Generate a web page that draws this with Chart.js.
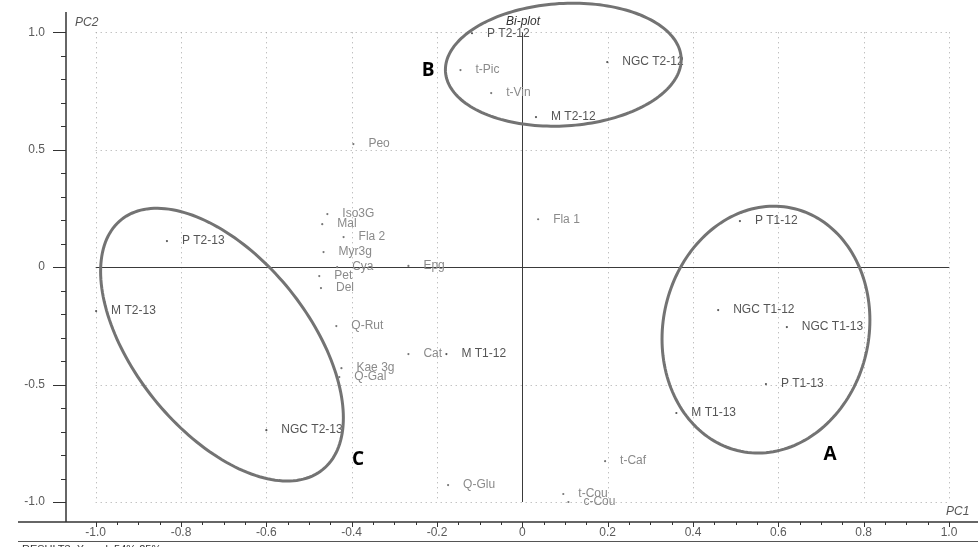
<!DOCTYPE html>
<html>
<head>
<meta charset="utf-8">
<title>Bi-plot</title>
<script src="https://cdn.jsdelivr.net/npm/chart.js@4.4.1/dist/chart.umd.min.js"></script>
<style>
  html, body { margin: 0; padding: 0; background: #fff; }
  #wrap { width: 978px; height: 547px; }
</style>
</head>
<body>
<div id="wrap"><canvas id="biplot" width="978" height="547"></canvas></div>
<script>
// scores (samples)
const sampleNames = ['P T2-12', 'NGC T2-12', 'M T2-12', 'P T2-13', 'M T2-13', 'NGC T2-13',
  'M T1-12', 'P T1-12', 'NGC T1-12', 'NGC T1-13', 'P T1-13', 'M T1-13'];
const samplePC1 = [-0.118, 0.199, 0.032, -0.833, -0.999, -0.600, -0.178, 0.510, 0.459, 0.620, 0.571, 0.361];
const samplePC2 = [0.996, 0.873, 0.639, 0.111, -0.187, -0.694, -0.370, 0.196, -0.183, -0.255, -0.498, -0.621];

// loadings (variables)
const variableNames = ['t-Pic', 't-Vin', 'Peo', 'Iso3G', 'Mal', 'Fla 2', 'Myr3g', 'Cya', 'Pet', 'Del',
  'Epg', 'Fla 1', 'Q-Rut', 'Kae 3g', 'Q-Gal', 'Cat', 'Q-Glu', 't-Caf', 't-Cou', 'c-Cou'];
const variablePC1 = [-0.145, -0.073, -0.396, -0.457, -0.469, -0.419, -0.466, -0.434, -0.476, -0.472,
  -0.267, 0.037, -0.436, -0.424, -0.429, -0.267, -0.174, 0.194, 0.096, 0.108];
const variablePC2 = [0.839, 0.741, 0.524, 0.226, 0.183, 0.128, 0.064, 0.000, -0.038, -0.089,
  0.005, 0.204, -0.251, -0.430, -0.468, -0.370, -0.928, -0.826, -0.966, -1.000];

// axis ticks
const pc1Ticks = [-1.0, -0.8, -0.6, -0.4, -0.2, 0, 0.2, 0.4, 0.6, 0.8, 1.0];
const pc1TickLabels = ['-1.0', '-0.8', '-0.6', '-0.4', '-0.2', '0', '0.2', '0.4', '0.6', '0.8', '1.0'];
const pc2Ticks = [1.0, 0.5, 0, -0.5, -1.0];
const pc2TickLabels = ['1.0', '0.5', '0', '-0.5', '-1.0'];

// group outlines: centre and two conjugate semi-axes, in PC units
const groupNames = ['A', 'B', 'C'];
const groupCentres = [[0.571, -0.266], [0.096, 0.862], [-0.704, -0.330]];
const groupAxisU = [[0.2436, 0.0401], [0.2763, 0.0216], [0.2845, -0.3117]];
const groupAxisV = [[0, -0.524], [0, -0.261], [0, -0.490]];
const groupLetterAt = [[0.721, -0.800], [-0.221, 0.835], [-0.385, -0.821]];

const FONT = '"Liberation Sans", Arial, sans-serif';

function toPoints(xs, ys) {
  return xs.map((x, i) => ({ x, y: ys[i] }));
}

const biplotDecor = {
  id: 'biplotDecor',
  beforeDatasetsDraw(chart) {
    const { ctx, chartArea: a } = chart;
    const sx = chart.scales.x, sy = chart.scales.y;
    const px = v => sx.getPixelForValue(v);
    const py = v => sy.getPixelForValue(v);

    ctx.save();
    // dotted grid inside the unit square
    ctx.strokeStyle = '#a8a8a8';
    ctx.lineWidth = 1;
    ctx.setLineDash([1, 4]);
    pc1Ticks.forEach(v => {
      if (v === 0) return;
      const x = Math.round(px(v)) + 0.5;
      ctx.beginPath(); ctx.moveTo(x, py(1)); ctx.lineTo(x, py(-1)); ctx.stroke();
    });
    pc2Ticks.forEach(v => {
      if (v === 0) return;
      const y = Math.round(py(v)) + 0.5;
      ctx.beginPath(); ctx.moveTo(px(-1), y); ctx.lineTo(px(1), y); ctx.stroke();
    });
    ctx.setLineDash([]);

    // zero lines
    ctx.strokeStyle = '#3a3a3a';
    const x0 = Math.round(px(0)) + 0.5, y0 = Math.round(py(0)) + 0.5;
    ctx.beginPath(); ctx.moveTo(px(-1), y0); ctx.lineTo(px(1), y0); ctx.stroke();
    ctx.beginPath(); ctx.moveTo(x0, py(1)); ctx.lineTo(x0, py(-1)); ctx.stroke();

    // axes frame
    ctx.strokeStyle = '#333';
    ctx.lineWidth = 1.5;
    ctx.beginPath(); ctx.moveTo(a.left, a.top); ctx.lineTo(a.left, a.bottom); ctx.stroke();
    ctx.beginPath(); ctx.moveTo(18, a.bottom); ctx.lineTo(978, a.bottom); ctx.stroke();
    ctx.lineWidth = 1;
    ctx.strokeStyle = '#555';
    ctx.beginPath(); ctx.moveTo(18, 541.5); ctx.lineTo(978, 541.5); ctx.stroke();

    // PC2 ticks: major every 0.5, minor every 0.1
    ctx.strokeStyle = '#333';
    for (let k = -10; k <= 10; k++) {
      const y = Math.round(py(k / 10)) + 0.5;
      const major = k % 5 === 0;
      ctx.beginPath(); ctx.moveTo(a.left - (major ? 13 : 5), y); ctx.lineTo(a.left, y); ctx.stroke();
    }
    // PC1 ticks: major every 0.2, minor every 0.05
    for (let k = -20; k <= 20; k++) {
      const x = Math.round(px(k / 20)) + 0.5;
      const major = k % 4 === 0;
      ctx.beginPath(); ctx.moveTo(x, a.bottom); ctx.lineTo(x, a.bottom + (major ? 5 : 3)); ctx.stroke();
    }

    ctx.fillStyle = '#5a5a5a';
    ctx.font = '12px ' + FONT;
    ctx.textAlign = 'right';
    ctx.textBaseline = 'middle';
    pc2Ticks.forEach((v, i) => ctx.fillText(pc2TickLabels[i], 45, py(v)));
    ctx.textAlign = 'center';
    pc1Ticks.forEach((v, i) => ctx.fillText(pc1TickLabels[i], px(v), 533));

    // axis names and title
    ctx.font = 'italic 12px ' + FONT;
    ctx.textAlign = 'left';
    ctx.fillStyle = '#555';
    ctx.fillText('PC2', 75, 23);
    ctx.fillText('PC1', 946, 512);
    ctx.fillStyle = '#333';
    ctx.fillText('Bi-plot', 506, 22);

    ctx.font = '11px ' + FONT;
    ctx.textBaseline = 'top';
    ctx.fillStyle = '#333';
    ctx.fillText('RESULT3, X-expl: 54%,25%', 22, 544);
    ctx.restore();
  },
  afterDatasetsDraw(chart) {
    const { ctx } = chart;
    const sx = chart.scales.x, sy = chart.scales.y;
    const px = v => sx.getPixelForValue(v);
    const py = v => sy.getPixelForValue(v);

    ctx.save();
    ctx.font = '12px ' + FONT;
    ctx.textAlign = 'left';
    ctx.textBaseline = 'middle';
    ctx.fillStyle = '#8a8a8a';
    variableNames.forEach((n, i) => ctx.fillText(n, px(variablePC1[i]) + 15, py(variablePC2[i])));
    ctx.fillStyle = '#555';
    sampleNames.forEach((n, i) => ctx.fillText(n, px(samplePC1[i]) + 15, py(samplePC2[i])));

    // group outlines
    ctx.strokeStyle = '#737373';
    ctx.lineWidth = 3;
    groupNames.forEach((g, i) => {
      const [cx, cy] = groupCentres[i];
      const u = groupAxisU[i], w = groupAxisV[i];
      ctx.beginPath();
      for (let s = 0; s <= 180; s++) {
        const t = s / 180 * Math.PI * 2;
        const x = px(cx + u[0] * Math.cos(t) + w[0] * Math.sin(t));
        const y = py(cy + u[1] * Math.cos(t) + w[1] * Math.sin(t));
        if (s === 0) ctx.moveTo(x, y); else ctx.lineTo(x, y);
      }
      ctx.closePath();
      ctx.stroke();
    });

    ctx.fillStyle = '#000';
    ctx.font = 'bold 19px "Open Sans", sans-serif';
    ctx.textAlign = 'center';
    groupNames.forEach((g, i) => ctx.fillText(g, px(groupLetterAt[i][0]), py(groupLetterAt[i][1])));
    ctx.restore();
  }
};

new Chart(document.getElementById('biplot'), {
  type: 'scatter',
  data: {
    datasets: [
      { label: 'Samples', data: toPoints(samplePC1, samplePC2), pointRadius: 1.1, pointBackgroundColor: '#555', pointBorderWidth: 0 },
      { label: 'Variables', data: toPoints(variablePC1, variablePC2), pointRadius: 1.1, pointBackgroundColor: '#777', pointBorderWidth: 0 }
    ]
  },
  options: {
    responsive: false,
    animation: false,
    devicePixelRatio: 1,
    layout: { autoPadding: false, padding: { left: 66, top: 12, right: 0, bottom: 25 } },
    scales: {
      x: { type: 'linear', bounds: 'data', min: -1.0696, max: 1.068, display: false },
      y: { type: 'linear', bounds: 'data', min: -1.0852, max: 1.0864, display: false }
    },
    plugins: { legend: { display: false }, tooltip: { enabled: false } }
  },
  plugins: [biplotDecor]
});
</script>
</body>
</html>
